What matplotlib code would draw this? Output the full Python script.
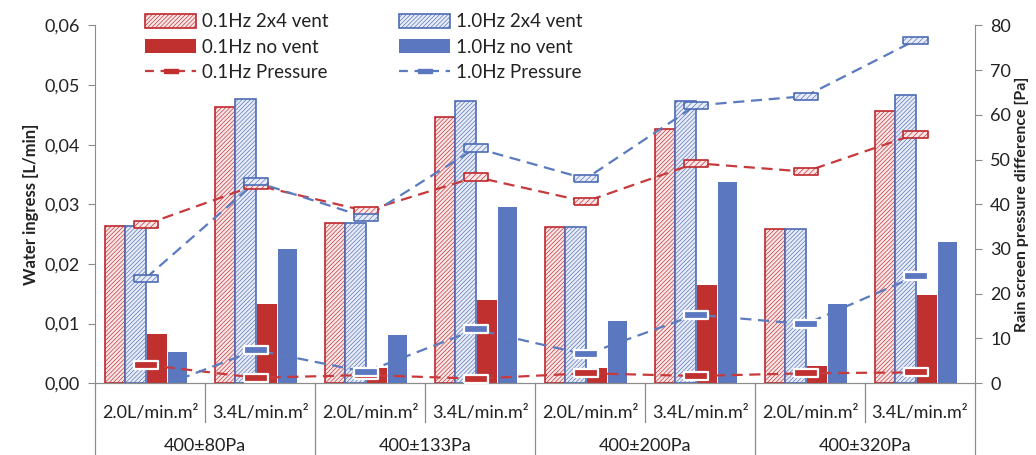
import numpy as np
import matplotlib
matplotlib.use("Agg")
import matplotlib.pyplot as plt
from matplotlib.lines import Line2D
from matplotlib.ticker import FuncFormatter

plt.rcParams["font.family"] = ["Lato", "DejaVu Sans"]
plt.rcParams["hatch.linewidth"] = 0.45

# --------------------DATA-------------------- #

flow_labels = ["2.0L/min.m²", "3.4L/min.m²"] * 4
group_labels = ["400±80Pa", "400±133Pa", "400±200Pa", "400±320Pa"]

# water ingress [L/min]
vent_01 = [0.0264, 0.0463, 0.0269, 0.0446, 0.0262, 0.0427, 0.0258, 0.0457]
vent_10 = [0.0264, 0.0477, 0.0269, 0.0474, 0.0262, 0.0474, 0.0258, 0.0483]
novent_01 = [0.0083, 0.0132, 0.0026, 0.0140, 0.0025, 0.0164, 0.0028, 0.0148]
novent_10 = [0.0053, 0.0225, 0.0081, 0.0295, 0.0105, 0.0337, 0.0133, 0.0237]

# rain screen pressure difference [Pa]
p_vent_01 = [35.5, 44.3, 38.5, 46.1, 40.6, 49.2, 47.3, 55.7]
p_vent_10 = [23.5, 45.0, 37.1, 52.6, 45.7, 62.1, 64.2, 76.7]
p_novent_01 = [4.1, 1.2, 1.8, 1.0, 2.2, 1.6, 2.2, 2.4]
p_novent_10 = [-2.0, 7.4, 2.5, 12.0, 6.4, 15.3, 13.2, 23.9]

# --------------------STYLE-------------------- #

red = "#c0282c"
red_light = "#f9e6e6"
blue = "#4d6cb6"
blue_light = "#e8ecf7"
red_solid = "#c0302f"
blue_solid = "#5a77bf"
axis_grey = "#8c8c8c"
text_col = "#222222"

fig = plt.figure(figsize=(10.36, 4.55), dpi=100)
ax = fig.add_axes([0.092, 0.158, 0.849, 0.786])
ax2 = ax.twinx()

x = np.arange(len(flow_labels)) - 0.04
w = 0.186

b1 = ax.bar(x - 1.5 * w, vent_01, w, facecolor=red_light, edgecolor=red, hatch="////////", linewidth=1.2)
b2 = ax.bar(x - 0.5 * w, vent_10, w, facecolor=blue_light, edgecolor=blue, hatch="////////", linewidth=1.2)
b3 = ax.bar(x + 0.5 * w + 0.01, novent_01, w * 0.95, color=red_solid)
b4 = ax.bar(x + 1.5 * w + 0.01, novent_10, w * 0.95, color=blue_solid)

ax.set_xlim(-0.5, len(flow_labels) - 0.5)
ax.set_ylim(0, 0.06)
ax.set_yticks(np.arange(0, 0.061, 0.01))
ax.yaxis.set_major_formatter(FuncFormatter(lambda v, p: f"{v:.2f}".replace(".", ",")))
ax.set_xticks([])

# pressure lines
rect = [(-1.7, -0.5), (1.7, -0.5), (1.7, 0.5), (-1.7, 0.5), (-1.7, -0.5)]
dash = (5, 3)
for vals, col in [(p_vent_01, "#c8393c"), (p_novent_01, "#c8393c"), (p_vent_10, "#5b7bbf"), (p_novent_10, "#5b7bbf")]:
    ax2.plot(x, vals, color=col, linestyle=(0, dash), linewidth=1.6, zorder=3)

ax2.scatter(x, p_vent_01, marker=rect, s=300, facecolor=red_light, edgecolor=red, hatch="//////", linewidth=1.2, zorder=5)
ax2.scatter(x, p_vent_10, marker=rect, s=300, facecolor=blue_light, edgecolor=blue, hatch="//////", linewidth=1.2, zorder=5)
ax2.scatter(x, p_novent_01, marker=rect, s=300, facecolor=red_solid, edgecolor="white", linewidth=1.6, zorder=6)
ax2.scatter(x, p_novent_10, marker=rect, s=300, facecolor=blue_solid, edgecolor="white", linewidth=1.6, zorder=6)

ax2.set_ylim(0, 80)
ax2.set_yticks(np.arange(0, 81, 10))

for a in (ax, ax2):
    a.spines["top"].set_visible(False)
    for s in ("left", "right", "bottom"):
        a.spines[s].set_color(axis_grey)
    a.tick_params(axis="y", colors=axis_grey, labelcolor=text_col, labelsize=13, length=5, pad=6)
ax2.spines["left"].set_visible(False)
ax.spines["right"].set_visible(False)

ax.set_ylabel("Water ingress [L/min]", fontsize=12, fontweight="bold", color=text_col, labelpad=4)
ax2.set_ylabel("Rain screen pressure difference [Pa]", fontsize=11.5, fontweight="bold", color=text_col, labelpad=3)

# --------------------TWO LEVEL X AXIS-------------------- #

trans = ax.get_xaxis_transform()
for i, lab in enumerate(flow_labels):
    ax.text(i, -0.083, lab, transform=trans, ha="center", va="center", fontsize=13, color=text_col)
for j, lab in enumerate(group_labels):
    ax.text(2 * j + 0.5, -0.177, lab, transform=trans, ha="center", va="center", fontsize=13, color=text_col)
for k in range(len(flow_labels) + 1):
    bottom = -0.22 if k % 2 == 0 else -0.11
    ax.plot([k - 0.5, k - 0.5], [0, bottom], transform=trans, color=axis_grey, linewidth=0.9, clip_on=False)

# --------------------LEGEND-------------------- #

h_p01 = Line2D([], [], color="#c8393c", linestyle=(0, (4, 3)), linewidth=1.6, marker=rect, markersize=10,
               markerfacecolor=red_solid, markeredgecolor=red_solid)
h_p10 = Line2D([], [], color="#5b7bbf", linestyle=(0, (4, 3)), linewidth=1.6, marker=rect, markersize=10,
               markerfacecolor=blue_solid, markeredgecolor=blue_solid)
handles = [b1, b3, h_p01, b2, b4, h_p10]
labels = ["0.1Hz 2x4 vent", "0.1Hz no vent", "0.1Hz Pressure", "1.0Hz 2x4 vent", "1.0Hz no vent", "1.0Hz Pressure"]
fig.legend(handles, labels, loc="upper left", bbox_to_anchor=(0.124, 1.008), ncol=2, frameon=False,
           fontsize=13.5, handlelength=2.7, handleheight=0.75, handletextpad=0.3, labelspacing=0.45,
           columnspacing=3.8, numpoints=1, labelcolor=text_col)

fig.savefig("out.png", dpi=100)
